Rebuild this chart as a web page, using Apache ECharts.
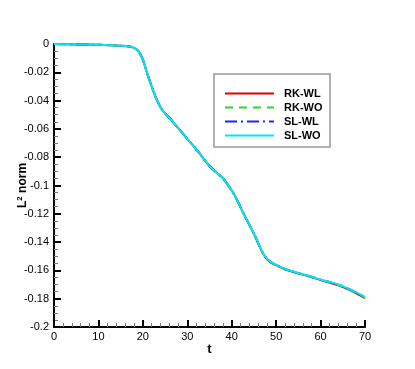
<!DOCTYPE html>
<html>
<head>
<meta charset="utf-8">
<script src="https://cdn.jsdelivr.net/npm/echarts@6/dist/echarts.min.js"></script>
<style>
  html, body {margin: 0; padding: 0; background: #fff;}
  #chart {width: 415px; height: 369px;}
</style>
</head>
<body>
<div id="chart"></div>
<script>
// time samples and L2 norm values
var times = [0, 5, 10, 15, 17, 18, 19, 20, 21, 22, 23, 24, 25, 26, 27, 28, 29, 30, 31, 32, 33, 34, 35, 36, 37, 38, 39, 40,
  41, 42, 43, 44, 45, 46, 47, 48, 49, 50, 52, 54, 56, 58, 60, 62, 64, 66, 68, 70]
var rkWL = [0, -0.0003, -0.0006, -0.0012, -0.0018, -0.0028, -0.005, -0.011, -0.021, -0.030, -0.0385, -0.0448, -0.049, -0.0523,
  -0.056, -0.0596, -0.0633, -0.067, -0.0706, -0.0744, -0.0782, -0.0825, -0.0862, -0.0893, -0.092, -0.0947, -0.099, -0.1035,
  -0.109, -0.1155, -0.122, -0.128, -0.1342, -0.1412, -0.1478, -0.1523, -0.1548, -0.1563, -0.1593, -0.1613, -0.163, -0.1648,
  -0.1668, -0.1686, -0.1705, -0.173, -0.1762, -0.1795]
var rkWO = [0, -0.0003, -0.0006, -0.0012, -0.0018, -0.0028, -0.005, -0.011, -0.021, -0.030, -0.0385, -0.0448, -0.049, -0.0523,
  -0.056, -0.0596, -0.0633, -0.067, -0.0706, -0.0744, -0.0782, -0.0825, -0.0862, -0.0893, -0.092, -0.0946, -0.099, -0.1035,
  -0.109, -0.1155, -0.122, -0.128, -0.1341, -0.1411, -0.1477, -0.1522, -0.1547, -0.1562, -0.1592, -0.1612, -0.1629, -0.1647,
  -0.1667, -0.1685, -0.1703, -0.1728, -0.1759, -0.1792]
var slWL = [0, -0.0003, -0.0006, -0.0012, -0.0018, -0.0028, -0.005, -0.011, -0.021, -0.030, -0.0385, -0.0448, -0.049, -0.0523,
  -0.056, -0.0596, -0.0633, -0.067, -0.0706, -0.0744, -0.0782, -0.0825, -0.0862, -0.0893, -0.092, -0.0945, -0.099, -0.1035,
  -0.109, -0.1155, -0.122, -0.128, -0.134, -0.141, -0.1475, -0.152, -0.1545, -0.156, -0.159, -0.161, -0.1627, -0.1645,
  -0.1665, -0.1682, -0.170, -0.1725, -0.1755, -0.1788]
var slWO = [0, -0.0003, -0.0006, -0.0012, -0.0018, -0.0028, -0.005, -0.011, -0.021, -0.030, -0.0385, -0.0448, -0.049, -0.0523,
  -0.056, -0.0596, -0.0633, -0.067, -0.0706, -0.0744, -0.0782, -0.0825, -0.0862, -0.0893, -0.092, -0.0945, -0.099, -0.1035,
  -0.109, -0.1155, -0.122, -0.128, -0.134, -0.141, -0.1475, -0.152, -0.1545, -0.156, -0.159, -0.161, -0.1627, -0.1645,
  -0.1665, -0.1682, -0.170, -0.1725, -0.1755, -0.1787]
var names = ['RK-WL', 'RK-WO', 'SL-WL', 'SL-WO']

function pairs (vals) {
  return times.map(function (t, i) { return [t, vals[i]] })
}

var font = '"Liberation Sans", Arial, sans-serif'

var option = {
  backgroundColor: '#fff',
  animation: false,
  textStyle: {fontFamily: font, color: '#000'},
  grid: {left: 54, right: 50, top: 44, bottom: 42, containLabel: false, outerBoundsMode: 'none'},
  legend: {
    data: names,
    orient: 'vertical',
    left: 224,
    top: 88,
    itemWidth: 49,
    itemHeight: 10,
    itemGap: 3,
    padding: 0,
    itemStyle: {opacity: 0},
    textStyle: {fontFamily: font, fontSize: 11, fontWeight: 'bold', color: '#000', padding: [0, 0, 0, 5]}
  },
  graphic: [{
    type: 'rect',
    shape: {x: 214, y: 74, width: 116, height: 73},
    style: {fill: 'none', stroke: '#999', lineWidth: 1.5},
    z: 100
  }],
  xAxis: {
    type: 'value',
    min: 0,
    max: 70,
    interval: 10,
    name: 't',
    nameLocation: 'middle',
    nameGap: 16,
    nameMoveOverlap: false,
    nameTextStyle: {fontFamily: font, fontSize: 13, fontWeight: 'bold', color: '#000'},
    axisLine: {show: true, onZero: false, lineStyle: {color: '#000', width: 2}},
    axisTick: {show: true, inside: true, length: 7, lineStyle: {color: '#000', width: 2}},
    minorTick: {show: true, splitNumber: 5, length: 4, lineStyle: {color: '#777', width: 1}},
    axisLabel: {fontFamily: font, fontSize: 11, color: '#000', margin: 4},
    splitLine: {show: false}
  },
  yAxis: {
    type: 'value',
    min: -0.2,
    max: 0,
    interval: 0.02,
    name: '{a|L}{s|2}{a| norm}',
    nameLocation: 'middle',
    nameRotate: 90,
    nameGap: 24,
    nameMoveOverlap: false,
    nameTextStyle: {
      rich: {
        a: {fontFamily: font, fontSize: 12, fontWeight: 'bold', color: '#000'},
        s: {fontFamily: font, fontSize: 8, fontWeight: 'bold', color: '#000', verticalAlign: 'top', padding: [0, 0, 6, 0]}
      }
    },
    axisLine: {show: true, onZero: false, lineStyle: {color: '#000', width: 2}},
    axisTick: {show: true, inside: true, length: 7, lineStyle: {color: '#000', width: 2}},
    minorTick: {show: true, splitNumber: 4, length: 4, lineStyle: {color: '#777', width: 1}},
    axisLabel: {
      fontFamily: font, fontSize: 11, color: '#000', margin: 5,
      formatter: function (v) { return String(+v.toFixed(3)) }
    },
    splitLine: {show: false}
  },
  series: [{
    name: names[0], type: 'line', data: pairs(rkWL), showSymbol: false, symbol: 'none', smooth: 0.3,
    color: '#e00000', lineStyle: {width: 2, color: '#e00000'}
  }, {
    name: names[1], type: 'line', data: pairs(rkWO), showSymbol: false, symbol: 'none', smooth: 0.3,
    color: '#22dd22', lineStyle: {width: 2, color: '#22dd22', type: [8, 6]}
  }, {
    name: names[2], type: 'line', data: pairs(slWL), showSymbol: false, symbol: 'none', smooth: 0.3,
    color: '#2222ff', lineStyle: {width: 2, color: '#2222ff', type: [12, 4, 2, 4]}
  }, {
    name: names[3], type: 'line', data: pairs(slWO), showSymbol: false, symbol: 'none', smooth: 0.3,
    color: '#00e8f0', lineStyle: {width: 2, color: '#00e8f0'}
  }]
}

var charts = echarts.init(document.getElementById('chart'))
charts.setOption(option)
</script>
</body>
</html>
